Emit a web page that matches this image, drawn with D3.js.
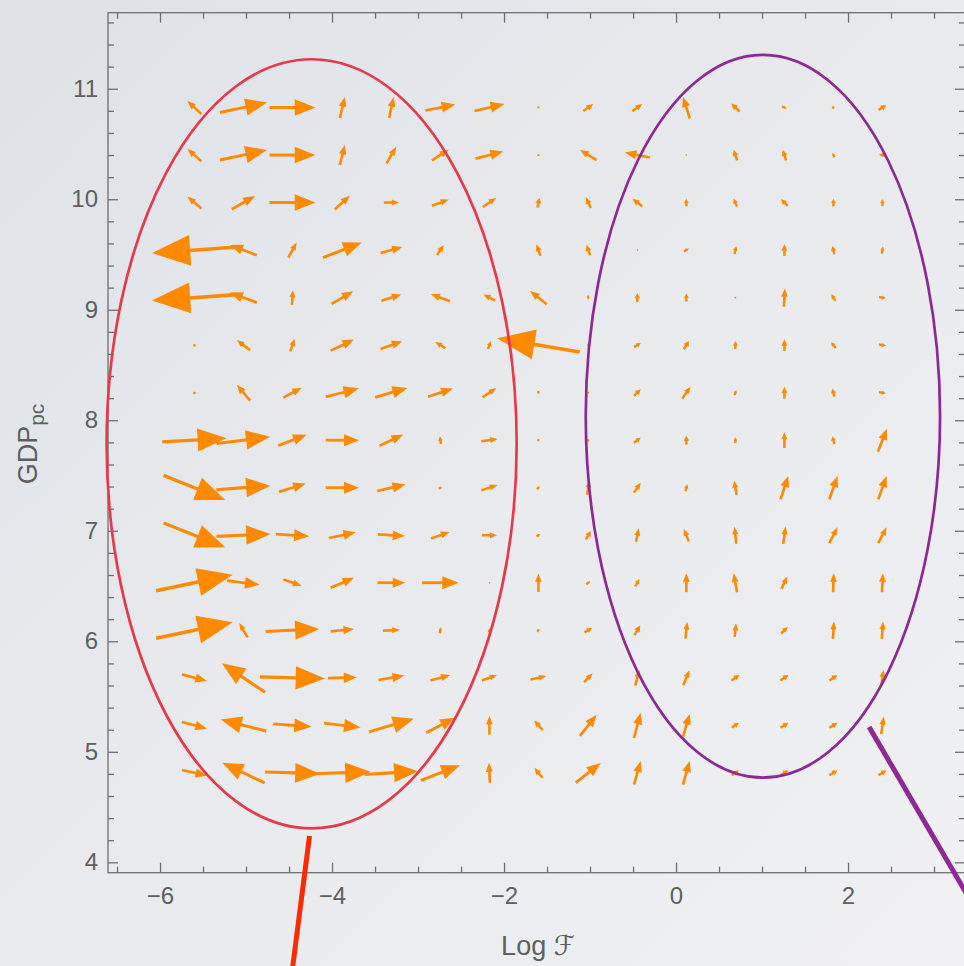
<!DOCTYPE html>
<html>
<head>
<meta charset="utf-8">
<script src="https://cdn.jsdelivr.net/npm/d3@7"></script>
<style>
  html, body { margin: 0; padding: 0; background: #e9ebee; }
  svg { display: block; }
</style>
</head>
<body>
<svg id="chart" width="964" height="966"></svg>
<script>
// ---- sample grid of the field ----
const gridX = [-5.6, -5.03, -4.46, -3.88, -3.31, -2.74, -2.17, -1.6, -1.02, -0.45, 0.12, 0.69, 1.26, 1.83, 2.4];
const gridY = [10.83, 10.40, 9.97, 9.54, 9.11, 8.68, 8.25, 7.82, 7.39, 6.96, 6.53, 6.10, 5.67, 5.24, 4.81];

// horizontal component (rows follow gridY, columns follow gridX)
const fieldU = [
  [-1.4, 4.7, 4.6, 0.5, 0.45, 3.0, 3.0, 0.05, 1.0, 1.0, -0.67, -0.86, 0.5, 0.3, 0.8],
  [-1.4, 4.7, 4.6, 0.5, 0.97, 1.67, 2.77, 0, -1.67, -2.5, 0, -0.34, -0.34, -0.23, -0.7],
  [-1.4, 2.33, 4.6, 1.5, 1.5, 1.67, 1.33, 0.2, -0.5, -1.0, 0, -0.33, -0.67, 0, 0],
  [-8.5, -2.67, 0.83, 3.87, 2.17, 0.67, -0.1, -0.4, -0.36, 0.1, 0.5, 0.17, 0, -0.2, 0.1],
  [-8.5, -2.67, 0.1, 2.16, 2.0, -1.93, -1.17, -1.67, 0.1, 0, 0, 0.1, 0.1, -0.4, 0.7],
  [0, -1.33, 0.43, 2.33, 2.17, -1.0, 0.3, -8.26, 0.1, 0.67, 0.5, 0, 0, -0.47, 0.7],
  [0, -1.33, 1.84, 3.33, 3.23, 2.5, 1.37, 0.1, 0.1, 0.67, 0.83, 0.2, 0, -0.2, 0.7],
  [6.44, 5.33, 2.84, 3.33, 2.37, -0.1, 1.63, 0.2, 0.2, 0.67, 0, 0, 0, -0.2, 0.9],
  [6.17, 5.4, 2.67, 3.33, 2.83, 0.3, 1.63, 0.3, 0.27, 0.67, 0.2, -0.24, 0.77, 0.83, 0.84],
  [6.17, 5.4, 3.33, 2.67, 2.7, 1.86, 1.5, 0.4, 0.5, 0.27, -0.5, -0.17, 0.23, 0.8, 0.84],
  [7.66, 3.27, 1.84, 2.33, 2.77, 3.66, 0.1, 0, 0.4, 0.4, 0, -0.34, 0.6, 0.06, 0.1],
  [7.66, -0.83, 5.36, 2.33, 1.7, 0.1, 0.1, 0.2, 0.77, 0.6, 0.17, 0.14, 0.66, 0.1, 0.14],
  [2.5, -4.33, 6.5, 2.87, 2.57, 2.0, 1.5, 1.6, 0.84, 0.44, 0.6, 0.8, 0.83, 0.8, 0.23],
  [2.5, -4.57, 3.84, 3.67, 4.5, 2.84, 0, -0.84, 1.67, 0.67, 0.66, 0.7, 0.8, 0.8, 0.26],
  [2.5, -4.23, 5.5, 5.68, 5.34, 3.93, -0.1, -0.8, 2.5, 0.67, 0.67, 0.7, 0.8, 0.8, 0.8]
];

// vertical component
const fieldV = [
  [1.3, 1.0, 0, 2.1, 2.1, 0.6, 0.7, -0.2, 0.7, 0.7, 2.17, 0.8, -0.2, 0, 0.5],
  [1.26, 1.0, 0, 2.0, 1.67, 1.07, 0.73, 0.2, 1.0, 0.5, 0.1, 1.06, 1.06, 0.4, 0.15],
  [1.2, 1.33, 0, 1.4, 0, 0.63, 0.9, 0.97, 1.07, 0.76, 0.76, 0.76, 0.67, 0.76, 0.7],
  [-0.6, 1.03, 1.5, 1.5, 0.6, 1.0, 0.3, 1.16, 1.04, 0, 0.3, 0.77, 1.16, 0.84, 0.7],
  [-0.6, 1.0, 1.46, 1.27, 0.63, 0.73, 0.6, 1.34, -0.4, 0.9, 0.8, 0.1, 1.83, 0.66, -0.1],
  [0.3, 1.0, 1.26, 1.1, 0.77, 0.64, 0.77, 1.36, 0.2, 0.4, 0.84, 0.8, 1.16, 0.57, -0.15],
  [0.3, 1.6, 1.0, 0.86, 0.93, 0.83, 0.93, -0.3, 0.1, 0.66, 1.2, 0.5, 1.2, 0.83, -0.1],
  [0.36, 0.67, 1.1, 0, 1.1, 0.77, 0.23, -0.1, 0.2, 0.5, 0.9, 0.6, 1.57, 0.8, 2.3],
  [-2.46, 0.4, 0.83, 0, 0.66, 0.2, 0.54, 0.3, 1.4, 1.0, 0.7, 1.44, 2.34, 2.34, 2.34],
  [-2.43, 0.23, -0.23, 0.57, -0.16, 0.64, 0, 0.2, 0.84, 1.33, 1.26, 1.67, 1.74, 1.57, 1.57],
  [1.6, -0.4, -0.67, 1.0, 0, 0, 0, 1.83, 0.3, 0.73, 1.9, 1.9, 1.24, 1.9, 1.9],
  [1.6, 1.43, 0.26, 0.23, 0.1, 0.6, 0.4, 0.3, 0.43, 1.0, 1.67, 1.33, 0.67, 1.74, 1.74],
  [-0.67, 2.9, -0.17, 0.07, 0.44, 0.56, 0.56, 0.33, 0.9, 1.57, 1.5, 0.56, 0.56, 0.56, 1.6],
  [-0.67, 1.16, -0.27, -0.43, 1.33, 1.5, 1.87, 1.0, 2.13, 2.5, 2.27, 0.5, 0.5, 0.5, 1.77],
  [-0.57, 2.03, -0.17, 0.2, 0.33, 1.5, 2.0, 1.0, 1.97, 2.34, 2.37, 0.5, 0.5, 0.5, 0.5]
];

// axis ticks
const xTicksMajor = [-6, -4, -2, 0, 2];
const xTicksMinor = [-6.5, -5.5, -5, -4.5, -3.5, -3, -2.5, -1.5, -1, -0.5, 0.5, 1, 1.5, 2.5, 3];
const yTicksMajor = [4, 5, 6, 7, 8, 9, 10, 11];
const xTitle = "Log \u2131";
const yTitle = "GDP";
const yTitleSub = "pc";

// highlighted regions: [centre x, centre y, radius x, radius y]
const regionLow  = [-4.237, 7.787, 2.384, 3.48];
const regionHigh = [1.01, 8.036, 2.06, 3.27];
// callout strokes: [[x1, y1], [x2, y2]]
const calloutLow  = [[-4.262, 4.238], [-4.468, 2.99]];
const calloutHigh = [[2.245, 5.225], [3.45, 3.62]];

// ---- drawing ----
const W = 964, H = 966;
const svg = d3.select("#chart");
const plot = { left: 108, right: 965, top: 12.7, bottom: 872.7 };

const x = d3.scaleLinear().domain([-6.605, 3.36]).range([plot.left, plot.right]);
const y = d3.scaleLinear().domain([3.906, 11.688]).range([plot.bottom, plot.top]);
const arrowScale = d3.scaleLinear().domain([0, 1]).range([0, 10]);

const defs = svg.append("defs");
const bg = defs.append("linearGradient").attr("id", "bg")
  .attr("x1", 0).attr("y1", 0).attr("x2", 1).attr("y2", 1);
bg.append("stop").attr("offset", 0).attr("stop-color", "#dee2e7");
bg.append("stop").attr("offset", 0.5).attr("stop-color", "#e8eaed");
bg.append("stop").attr("offset", 1).attr("stop-color", "#f1f1f3");
svg.append("rect").attr("width", W).attr("height", H).attr("fill", "url(#bg)");

const fontFamily = "'Liberation Sans', Arial, 'DejaVu Sans', sans-serif";
const axisColor = "#6f6f6f";
const labelColor = "#5f5f5f";

// vector arrows, each centred on its grid point
const arrowColor = "#ff8a00";
const gArrows = svg.append("g");
const arrows = [];
gridY.forEach((gy, r) => {
  gridX.forEach((gx, c) => {
    arrows.push({ gx, gy, u: fieldU[r][c], v: fieldV[r][c] });
  });
});
arrows.forEach(a => {
  const cx = x(a.gx), cy = y(a.gy);
  const mag = Math.hypot(a.u, a.v);
  const L = arrowScale(mag);
  if (L < 0.5) {
    gArrows.append("circle").attr("cx", cx).attr("cy", cy).attr("r", 1.2).attr("fill", arrowColor);
    return;
  }
  const ux = a.u / mag, uy = -a.v / mag;       // screen direction
  const px = -uy, py = ux;                      // perpendicular
  const tx = cx - ux * L / 2, ty = cy - uy * L / 2;
  const hx = cx + ux * L / 2, hy = cy + uy * L / 2;
  const headLen = Math.min(0.56 * L, Math.max(0.45 * L, 7));
  const headHalf = Math.min(Math.max(0.18 * L, 3), 0.3 * L);
  const bx = hx - ux * headLen, by = hy - uy * headLen;
  gArrows.append("line")
    .attr("x1", tx).attr("y1", ty)
    .attr("x2", bx + ux * 0.8).attr("y2", by + uy * 0.8)
    .attr("stroke", arrowColor)
    .attr("stroke-width", Math.min(2.3 + 0.015 * L, 0.6 * L + 0.8));
  gArrows.append("path")
    .attr("d", `M${hx},${hy}L${bx + px * headHalf},${by + py * headHalf}L${bx - px * headHalf},${by - py * headHalf}Z`)
    .attr("fill", arrowColor);
});

// frame
svg.append("rect")
  .attr("x", plot.left).attr("y", plot.top)
  .attr("width", plot.right - plot.left).attr("height", plot.bottom - plot.top)
  .attr("fill", "none").attr("stroke", axisColor).attr("stroke-width", 1.3);

function styleAxis(g) {
  g.select(".domain").remove();
  g.selectAll(".tick line").attr("stroke", axisColor).attr("stroke-width", 1.3);
  g.selectAll(".tick text").attr("fill", labelColor)
    .style("font-family", fontFamily).style("font-size", "24px");
}

const yMinorTicks = d3.range(39, 118, 1).map(d => d / 10).filter(d => Math.abs(d * 5 - Math.round(d * 5)) < 1e-9 && Math.abs(d - Math.round(d)) > 1e-9);

// bottom
svg.append("g").attr("transform", `translate(0,${plot.bottom})`)
  .call(d3.axisBottom(x).tickValues(xTicksMajor).tickSize(-10).tickPadding(14).tickFormat(d3.format("d")))
  .call(styleAxis);
svg.append("g").attr("transform", `translate(0,${plot.bottom})`)
  .call(d3.axisBottom(x).tickValues(xTicksMinor).tickSize(-6).tickFormat(""))
  .call(styleAxis);
// top
svg.append("g").attr("transform", `translate(0,${plot.top})`)
  .call(d3.axisTop(x).tickValues(xTicksMajor).tickSize(-10).tickFormat(""))
  .call(styleAxis);
svg.append("g").attr("transform", `translate(0,${plot.top})`)
  .call(d3.axisTop(x).tickValues(xTicksMinor).tickSize(-6).tickFormat(""))
  .call(styleAxis);
// left
svg.append("g").attr("transform", `translate(${plot.left},0)`)
  .call(d3.axisLeft(y).tickValues(yTicksMajor).tickSize(-10).tickPadding(10).tickFormat(d3.format("d")))
  .call(styleAxis);
svg.append("g").attr("transform", `translate(${plot.left},0)`)
  .call(d3.axisLeft(y).tickValues(yMinorTicks).tickSize(-6).tickFormat(""))
  .call(styleAxis);
// right
svg.append("g").attr("transform", `translate(${plot.right},0)`)
  .call(d3.axisRight(y).tickValues(yTicksMajor).tickSize(-10).tickFormat(""))
  .call(styleAxis);
svg.append("g").attr("transform", `translate(${plot.right},0)`)
  .call(d3.axisRight(y).tickValues(yMinorTicks).tickSize(-6).tickFormat(""))
  .call(styleAxis);

// axis titles
svg.append("text")
  .attr("x", 538).attr("y", 955)
  .attr("text-anchor", "middle")
  .attr("fill", labelColor)
  .style("font-family", fontFamily).style("font-size", "27px")
  .text(xTitle);

const yt = svg.append("text")
  .attr("transform", "translate(37,444) rotate(-90)")
  .attr("text-anchor", "middle")
  .attr("fill", labelColor)
  .style("font-family", fontFamily).style("font-size", "27px");
yt.append("tspan").text(yTitle);
yt.append("tspan").attr("dy", 7).style("font-size", "21px").text(yTitleSub);

// highlighted regions
function ellipse(e, color) {
  svg.append("ellipse")
    .attr("cx", x(e[0])).attr("cy", y(e[1]))
    .attr("rx", x(e[0] + e[2]) - x(e[0]))
    .attr("ry", y(e[1]) - y(e[1] + e[3]))
    .attr("fill", "none").attr("stroke", color).attr("stroke-width", 2.7);
}
ellipse(regionLow, "#e8394a");
ellipse(regionHigh, "#8e2895");

function callout(seg, color) {
  svg.append("line")
    .attr("x1", x(seg[0][0])).attr("y1", y(seg[0][1]))
    .attr("x2", x(seg[1][0])).attr("y2", y(seg[1][1]))
    .attr("stroke", color).attr("stroke-width", 5);
}
callout(calloutLow, "#ff2a00");
callout(calloutHigh, "#8e2895");
</script>
</body>
</html>
